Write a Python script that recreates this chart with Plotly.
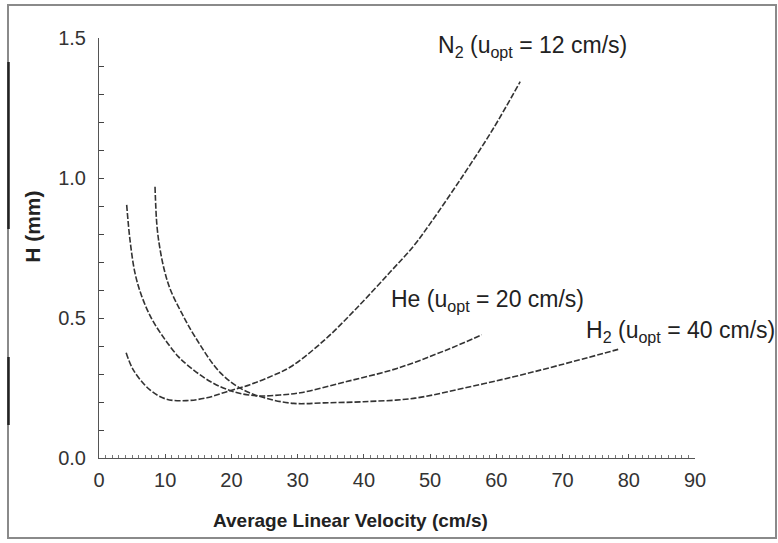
import plotly.graph_objects as go

# Data (Van Deemter curves)
n2_x = [4.1, 5.2, 7.7, 10.2, 13.2, 16.3, 19.3, 22.8, 26.3, 28.9, 33.9, 38.9, 44.0, 47.5, 50.0, 55.0, 59.5, 63.6]
n2_y = [0.376, 0.314, 0.243, 0.210, 0.205, 0.215, 0.237, 0.262, 0.295, 0.325, 0.418, 0.535, 0.665, 0.757, 0.837, 1.010, 1.175, 1.344]

he_x = [4.18, 4.68, 5.44, 6.45, 7.96, 9.97, 11.98, 13.2, 16.8, 20.3, 23.8, 27.3, 30.4, 37.4, 45.0, 52.5, 57.8]
he_y = [0.904, 0.779, 0.660, 0.578, 0.497, 0.423, 0.362, 0.335, 0.273, 0.237, 0.222, 0.225, 0.233, 0.273, 0.320, 0.386, 0.440]

h2_x = [8.46, 8.75, 9.2, 9.9, 10.8, 12.5, 14.5, 18.3, 21.8, 25.3, 29.4, 34.0, 39.9, 47.5, 55.0, 62.6, 69.6, 78.4]
h2_y = [0.969, 0.830, 0.748, 0.668, 0.600, 0.517, 0.433, 0.305, 0.243, 0.213, 0.195, 0.197, 0.201, 0.213, 0.249, 0.290, 0.332, 0.388]

x_ticks = [0, 10, 20, 30, 40, 50, 60, 70, 80, 90]
y_ticks = [0.0, 0.5, 1.0, 1.5]
y_tick_text = ["0.0", "0.5", "1.0", "1.5"]

labels = [
    ("N<sub>2</sub> (u<sub>opt</sub> = 12 cm/s)", 65.4, 1.468),
    ("He (u<sub>opt</sub> = 20 cm/s)", 58.6, 0.562),
    ("H<sub>2</sub> (u<sub>opt</sub> = 40 cm/s)", 87.8, 0.452),
]

FONT = "Liberation Sans, Arial, sans-serif"
TXT = "#222222"
LINE = "#333333"

fig = go.Figure()
for xs, ys in [(n2_x, n2_y), (he_x, he_y), (h2_x, h2_y)]:
    fig.add_trace(go.Scatter(
        x=xs, y=ys, mode="lines", line_shape="spline",
        line=dict(color=LINE, width=1.6, dash="6px,2px", smoothing=1.0),
        showlegend=False, hoverinfo="skip"))

for text, lx, ly in labels:
    fig.add_annotation(x=lx, y=ly, xref="x", yref="y", text=text, showarrow=False,
                       xanchor="center", yanchor="middle",
                       font=dict(family=FONT, size=23, color=TXT))

# axis titles as annotations for exact placement
fig.add_annotation(x=-0.111, y=0.55, xref="paper", yref="paper", text="<b>H (mm)</b>",
                   textangle=-90, showarrow=False, xanchor="center", yanchor="middle",
                   font=dict(family=FONT, size=21, color=TXT))
fig.add_annotation(x=0.422, y=-0.148, xref="paper", yref="paper",
                   text="<b>Average Linear Velocity (cm/s)</b>", showarrow=False,
                   xanchor="center", yanchor="middle",
                   font=dict(family=FONT, size=19, color=TXT))

# outer frame (as in the scanned figure)
W, H = 778, 543
L, R, T, B = 99, 83, 38, 85
pw, ph = W - L - R, H - T - B

def px(xp):
    return (xp - L) / pw

def py(yp):
    return (H - B - yp) / ph

fig.add_shape(type="rect", xref="paper", yref="paper",
              x0=px(8), x1=px(776), y0=py(5), y1=py(538),
              line=dict(color="#8a8a8a", width=2), fillcolor="rgba(0,0,0,0)")
for y0, y1 in [(62, 229), (357, 425)]:
    fig.add_shape(type="line", xref="paper", yref="paper",
                  x0=px(8.5), x1=px(8.5), y0=py(y0), y1=py(y1),
                  line=dict(color="#222222", width=2.5))

fig.update_layout(
    width=W, height=H,
    margin=dict(l=L, r=R, t=T, b=B),
    paper_bgcolor="white", plot_bgcolor="white",
    font=dict(family=FONT, color=TXT),
    xaxis=dict(range=[0, 90], tickvals=x_ticks, showgrid=False, zeroline=False,
               showline=True, linecolor="#555555", linewidth=1,
               ticks="inside", ticklen=4, tickcolor="#555555",
               minor=dict(dtick=1, ticks="inside", ticklen=3, tickcolor="#777777"),
               tickfont=dict(family=FONT, size=20, color="#333333"), ticklabelstandoff=4),
    yaxis=dict(range=[0, 1.5], tickvals=y_ticks, ticktext=y_tick_text, showgrid=False,
               zeroline=False, showline=True, linecolor="#555555", linewidth=1,
               ticks="inside", ticklen=5, tickcolor="#444444",
               minor=dict(dtick=0.1, ticks="inside", ticklen=5, tickcolor="#444444"),
               tickfont=dict(family=FONT, size=20, color="#333333"), ticklabelstandoff=8),
)

fig.write_html("out.html")
